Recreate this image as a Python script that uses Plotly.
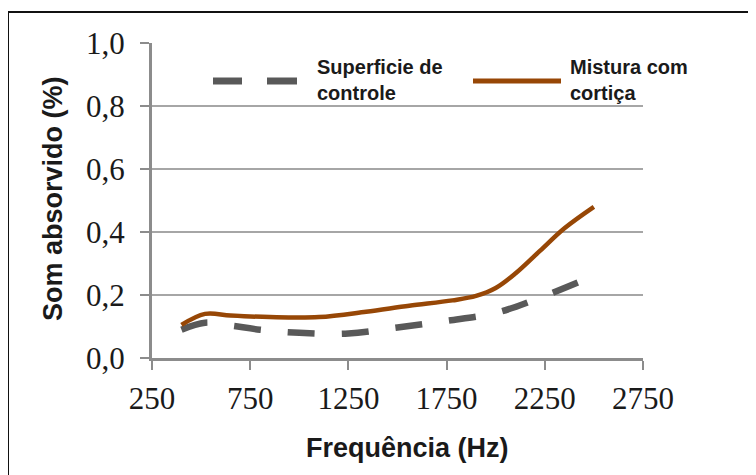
import plotly.graph_objects as go

# ---- data ----
freq_controle = [400, 520, 650, 800, 1000, 1250, 1500, 1750, 2000, 2200, 2420]
val_controle = [0.090, 0.112, 0.103, 0.090, 0.080, 0.078, 0.097, 0.118, 0.143, 0.185, 0.240]

freq_cortica = [400, 520, 650, 850, 1100, 1340, 1560, 1780, 1900, 2000, 2100, 2225, 2350, 2500]
val_cortica = [0.105, 0.140, 0.135, 0.130, 0.130, 0.147, 0.166, 0.183, 0.197, 0.222, 0.268, 0.340, 0.412, 0.480]

x_ticks = [250, 750, 1250, 1750, 2250, 2750]
x_tick_labels = ["250", "750", "1250", "1750", "2250", "2750"]
y_ticks = [0.0, 0.2, 0.4, 0.6, 0.8, 1.0]
y_tick_labels = ["0,0", "0,2", "0,4", "0,6", "0,8", "1,0"]

name_controle = "Superficie de<br>controle"
name_cortica = "Mistura com<br>cortiça"

GRAY = "#595959"
BROWN = "#974706"
TXT = "#1a1a1a"
AXC = "#8c8c8c"

fig = go.Figure()
fig.add_trace(go.Scatter(
    x=freq_controle, y=val_controle, mode="lines", name=name_controle,
    line=dict(color=GRAY, width=6.5, dash="27px,27px", shape="spline", smoothing=1.0),
    showlegend=False,
))
fig.add_trace(go.Scatter(
    x=freq_cortica, y=val_cortica, mode="lines", name=name_cortica,
    line=dict(color=BROWN, width=4.5, shape="spline", smoothing=1.0),
    showlegend=False,
))

# page offset of the figure div (body margin)
OFF = 8
FW, FH = 756, 475
# plot area in page pixels: x 152..643, y 43..358
L, R, T, B = 152, 643, 43, 358
W, H = R - L, B - T


def px(x):
    return (x - L) / W


def py(y):
    return (B - y) / H


shapes = [
    # outer frame
    dict(type="rect", xref="paper", yref="paper", x0=px(8), x1=px(790), y0=py(510), y1=py(12),
         line=dict(color="#111111", width=2), fillcolor="rgba(0,0,0,0)", layer="below"),
    # legend samples
    dict(type="line", xref="paper", yref="paper", x0=px(213), x1=px(242), y0=py(81), y1=py(81),
         line=dict(color=GRAY, width=7)),
    dict(type="line", xref="paper", yref="paper", x0=px(267), x1=px(297), y0=py(81), y1=py(81),
         line=dict(color=GRAY, width=7)),
    dict(type="line", xref="paper", yref="paper", x0=px(473), x1=px(561), y0=py(81), y1=py(81),
         line=dict(color=BROWN, width=5)),
]

legend_font = dict(family="Liberation Sans, Arial", size=20, color=TXT, weight="bold")
annotations = [
    dict(xref="paper", yref="paper", x=px(315), y=py(80), text=name_controle,
         showarrow=False, xanchor="left", yanchor="middle", align="left", font=legend_font),
    dict(xref="paper", yref="paper", x=px(568), y=py(80), text=name_cortica,
         showarrow=False, xanchor="left", yanchor="middle", align="left", font=legend_font),
    dict(xref="paper", yref="paper", x=px(53), y=py(199), text="Som absorvido (%)",
         textangle=-90, showarrow=False, xanchor="center", yanchor="middle",
         font=dict(family="Liberation Sans, Arial", size=27, color=TXT, weight="bold")),
    dict(xref="paper", yref="paper", x=px(407), y=py(448), text="Frequência (Hz)",
         showarrow=False, xanchor="center", yanchor="middle",
         font=dict(family="Liberation Sans, Arial", size=27, color=TXT, weight="bold")),
]

fig.update_layout(
    width=FW, height=FH,
    margin=dict(l=L - OFF, r=FW - (R - OFF), t=T - OFF, b=FH - (B - OFF), pad=0),
    paper_bgcolor="white", plot_bgcolor="white",
    shapes=shapes, annotations=annotations,
    showlegend=False,
)
fig.update_xaxes(
    range=[250, 2750], tickvals=x_ticks, ticktext=x_tick_labels,
    showgrid=False, zeroline=False,
    showline=True, linecolor=AXC, linewidth=3,
    ticks="outside", ticklen=9, tickwidth=2, tickcolor=AXC,
    ticklabelstandoff=2,
    tickfont=dict(family="Liberation Serif, Times New Roman", size=31, color=TXT),
)
fig.update_yaxes(
    range=[0, 1.0], tickvals=y_ticks, ticktext=y_tick_labels,
    showgrid=True, gridcolor="#a6a6a6", gridwidth=2, zeroline=False,
    showline=True, linecolor=AXC, linewidth=3,
    ticks="outside", ticklen=9, tickwidth=2, tickcolor=AXC,
    ticklabelstandoff=9,
    tickfont=dict(family="Liberation Serif, Times New Roman", size=31, color=TXT),
)

fig.write_html("out.html")
